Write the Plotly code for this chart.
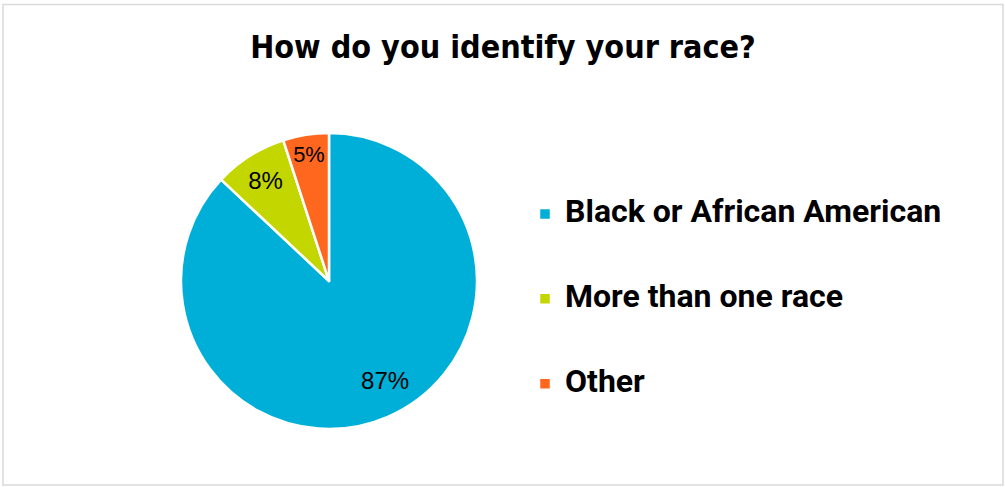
import plotly.graph_objects as go

categories = ["Black or African American", "More than one race", "Other"]
values = [87, 8, 5]
colors = ["#00AFD7", "#C4D600", "#FF671F"]
title_text = "How do you identify your race?"

W, H = 1005, 487
CX, CY, R = 329, 281, 148

legend_names = ["<br><span style='font-size:32px'>" + c + "</span><br> " for c in categories]

# the large slice's label sits further out from the centre, as in the reference
pad = "\u00a0" * 8
templates = ["\u00a0<br>\u00a0<br>" + pad + "%{percent:.0%}", "%{percent:.0%}", "%{percent:.0%}"]

fig = go.Figure(
    go.Pie(
        labels=legend_names,
        values=values,
        sort=False,
        direction="clockwise",
        rotation=0,
        marker=dict(colors=colors, line=dict(color="white", width=2.5)),
        texttemplate=templates,
        textposition="inside",
        insidetextorientation="horizontal",
        textfont=dict(family="Liberation Sans", size=24, color="black"),
        hovertext=categories,
        hoverinfo="text+percent",
        domain=dict(x=[(CX - R) / W, (CX + R) / W], y=[1 - (CY + R) / H, 1 - (CY - R) / H]),
    )
)

fig.update_layout(
    width=W,
    height=H,
    margin=dict(l=0, r=0, t=0, b=0),
    paper_bgcolor="white",
    plot_bgcolor="white",
    title=dict(
        text=title_text,
        x=503 / W,
        xanchor="center",
        y=1 - 47 / H,
        yanchor="middle",
        font=dict(family="DejaVu Sans Condensed, DejaVu Sans", size=32, color="black", weight="bold"),
    ),
    showlegend=True,
    legend=dict(
        x=525 / W,
        xanchor="left",
        y=1 - 299 / H,
        yanchor="middle",
        font=dict(family="Roboto", size=21, color="black", weight="bold"),
        bgcolor="rgba(0,0,0,0)",
    ),
    shapes=[
        dict(
            type="rect", xref="paper", yref="paper",
            x0=3 / W, x1=1003 / W, y0=1 - 485 / H, y1=1 - 4.5 / H,
            line=dict(color="#D9D9D9", width=1.5),
        )
    ],
)

fig.write_html(
    "out.html",
    config={"displayModeBar": False},
    post_script="document.body.style.margin='0';",
)
